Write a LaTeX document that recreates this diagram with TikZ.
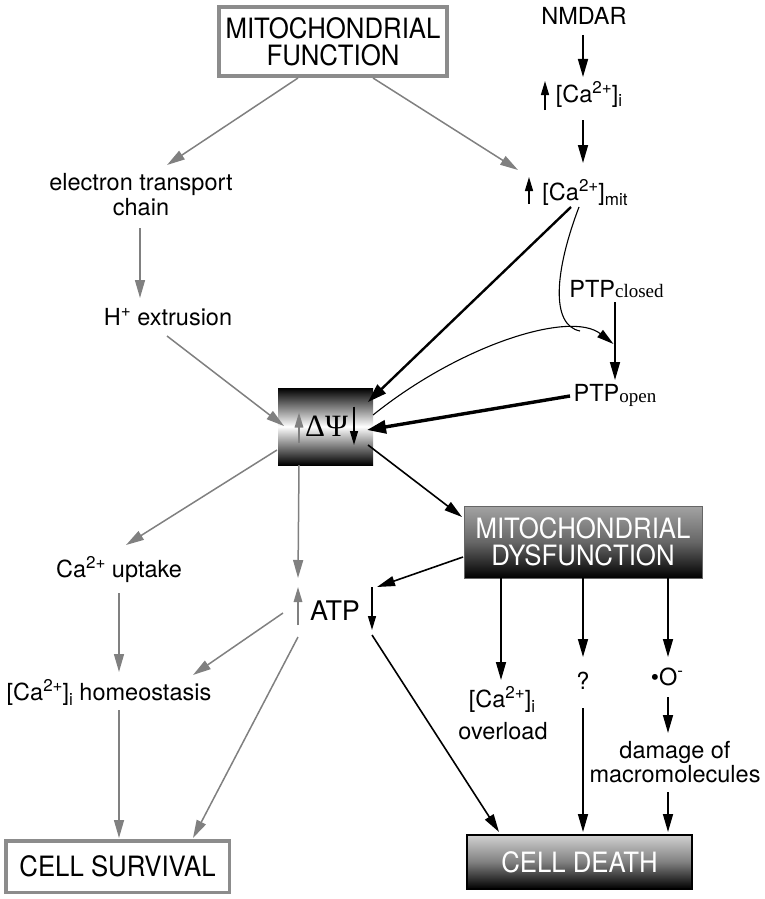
\documentclass[tikz,border=0pt]{standalone}
\usepackage{fontspec}
\setmainfont{TeX Gyre Heros}
\newfontfamily\boxfont[FakeStretch=0.92]{TeX Gyre Heros}
\newfontfamily\seriffont{Liberation Serif}
\usetikzlibrary{arrows.meta,calc}
\newcommand\sps[1]{\raisebox{8.5pt}{\fontsize{17}{17}\selectfont #1}}
\newcommand\sbs[1]{\raisebox{-5pt}{\fontsize{17}{17}\selectfont #1}}
\tikzset{
  lbl/.style={inner sep=0pt, anchor=base, font=\fontsize{23.5}{27}\selectfont},
  gr/.style={draw=black!50, line width=1.5pt, -{Triangle[length=18pt,width=10pt]}, black!50},
  bk/.style={draw=black, line width=1.6pt, -{Triangle[length=18pt,width=10pt]}},
  bkthick/.style={draw=black, line width=2.4pt, -{Triangle[length=19pt,width=12pt]}},
  bkvthick/.style={draw=black, line width=3.4pt, -{Triangle[length=19pt,width=13pt]}},
  smallbk/.style={draw=black, line width=1.4pt, -{Triangle[length=14pt,width=8pt]}},
  smallgr/.style={draw=black!50, line width=1.6pt, -{Triangle[length=15pt,width=8.5pt]}, black!50},
  thin/.style={draw=black, line width=1.1pt},
  boxtext/.style={inner sep=0pt, align=center, font=\boxfont\fontsize{28}{27}\selectfont},
}
\begin{document}
\begin{tikzpicture}[x=1pt,y=-1pt]
\useasboundingbox (0,0) rectangle (764,899);

% boxes
\node[boxtext, draw=black!45, line width=4pt, minimum width=228pt, minimum height=69pt] (mf) at (333,41.5) {MITOCHONDRIAL\\FUNCTION};
\node[inner sep=0pt, minimum width=95pt, minimum height=77pt, top color=black, bottom color=black, middle color=white,
      font=\seriffont\fontsize{31}{31}\selectfont] (dpsi) at (325.5,426.5) {\hspace{2pt}ΔΨ};
\node[boxtext, minimum width=238pt, minimum height=72pt, top color=black!36, bottom color=black, middle color=black!60,
      draw=black!60, line width=0.8pt, text=white] (mitod) at (583,542) {MITOCHONDRIAL\\DYSFUNCTION};
\node[boxtext, draw=black!45, line width=3.5pt, minimum width=223.5pt, minimum height=51.5pt] (cs) at (117.5,866.5) {CELL SURVIVAL};
\node[boxtext, minimum width=225pt, minimum height=54pt, top color=black!18, bottom color=black, middle color=black!50,
      draw=black, line width=2pt, text=white] (cd) at (579.5,862) {CELL DEATH};

% labels
\node[lbl] (nmdar) at (584,25) {NMDAR};
\node[lbl] (cai) at (589,102) {[Ca\sps{2+}]\sbs{i}};
\node[lbl] (camit) at (585,200) {[Ca\sps{2+}]\sbs{mit}};
\node[lbl] (etc1) at (141,190) {electron transport};
\node[lbl] (etc2) at (141,215) {chain};
\node[lbl] (hplus) at (168,325) {H\sps{+} extrusion};
\node[lbl] (ptpc) at (616.5,297) {PTP{\seriffont\fontsize{19}{19}\selectfont closed}};
\node[lbl] (ptpo) at (615,401) {PTP{\seriffont\fontsize{19}{19}\selectfont\raisebox{-1.5pt}{open}}};
\node[lbl] (uptake) at (119,577) {Ca\sps{2+} uptake};
\node[lbl, font=\fontsize{27}{27}\selectfont] (atp) at (335,620) {ATP};
\node[lbl] (homeo) at (109,700) {[Ca\sps{2+}]\sbs{i} homeostasis};
\node[lbl] (ovl1) at (502,707) {[Ca\sps{2+}]\sbs{i}};
\node[lbl] (ovl2) at (503,739) {overload};
\node[lbl] (q) at (583,689) {?};
\node[lbl] (sup) at (667,685) {\textbullet O\sps{-}};
\node[lbl] (dmg1) at (675,758) {damage of};
\node[lbl] (dmg2) at (675,782) {macromolecules};
\coordinate (merge) at (580,331);

% small in-label arrows
\draw[smallbk] ($(cai.base)+(-44,8)$) -- ($(cai.base)+(-44,-21)$);
\draw[smallbk] ($(camit.base)+(-56,4)$) -- ($(camit.base)+(-56,-23)$);
\draw[smallgr] ($(dpsi.center)+(-26.5,16.5)$) -- ($(dpsi.center)+(-26.5,-14)$);
\draw[smallbk] ($(dpsi.center)+(28.5,-20)$) -- ($(dpsi.center)+(28.5,18.5)$);
\draw[smallgr] ($(atp.base)+(-37,5)$) -- ($(atp.base)+(-37,-33)$);
\draw[smallbk] ($(atp.base)+(37,-33)$) -- ($(atp.base)+(37,10)$);

% connectors (gray = function)
\draw[gr] ($(mf.center)+(-35,36.5)$) -- ($(etc1.base)+(26,-25)$);
\draw[gr] ($(mf.center)+(40,36.5)$) -- ($(camit.base)+(-67,-30)$);
\draw[gr] ($(etc2.base)+(-1,13)$) -- ($(hplus.base)+(-28,-27)$);
\draw[gr] ($(hplus.base)+(-1,11)$) -- ($(dpsi.center)+(-41.5,-0.5)$);
\draw[gr] ($(dpsi.center)+(-48.5,23.5)$) -- ($(uptake.base)+(7,-32)$);
\draw[gr] ($(dpsi.center)+(-26.5,38.5)$) -- ($(atp.base)+(-37,-42)$);
\draw[gr] ($(atp.base)+(-52,-7)$) -- ($(homeo.base)+(84,-25)$);
\draw[gr] ($(atp.base)+(-37,17)$) -- ($(cs.center)+(75.5,-28.5)$);
\draw[gr] ($(uptake.base)+(0,16)$) -- ($(homeo.base)+(10,-28)$);
\draw[gr] ($(homeo.base)+(10,10)$) -- ($(cs.center)+(1.5,-28.5)$);

% connectors (black = dysfunction)
\draw[bk] ($(nmdar.base)+(-1,10)$) -- ($(cai.base)+(-6,-25)$);
\draw[bk] ($(cai.base)+(-6,18)$) -- ($(camit.base)+(-2,-37)$);
\draw[bkthick] ($(camit.base)+(-14,7)$) -- ($(dpsi.center)+(42.5,-24.5)$);
\draw[thin] ($(camit.base)+(-6,7)$) .. controls (555,270) and (550,325) .. (merge);
\draw[thin, -{Triangle[length=17pt,width=9pt]}] ($(dpsi.center)+(47.5,-11.5)$) .. controls (460,345) and (570,310) .. ($(ptpc.base)+(-3,47)$);
\draw[bk] ($(ptpc.base)+(-1.5,5)$) -- ($(ptpo.base)+(0,-21)$);
\draw[bkvthick] ($(ptpo.base)+(-45,-5)$) -- ($(dpsi.center)+(41.5,3.5)$);
\draw[bk] ($(dpsi.center)+(42.5,18.5)$) -- ($(mitod.center)+(-121,-25)$);
\draw[bk] ($(mitod.center)+(-120,15)$) -- ($(atp.base)+(42,-33)$);
\draw[bk] ($(atp.base)+(37,15)$) -- ($(cd.center)+(-80.5,-30)$);
\draw[bk] ($(mitod.center)+(-82,36)$) -- ($(ovl1.base)+(-1,-27)$);
\draw[bk] ($(mitod.center)+(0,36)$) -- ($(q.base)+(0,-32)$);
\draw[bk] ($(mitod.center)+(85,36)$) -- ($(sup.base)+(1,-28)$);
\draw[bk] ($(q.base)+(0,19)$) -- ($(cd.center)+(3.5,-30)$);
\draw[bk] ($(sup.base)+(1,12)$) -- ($(dmg1.base)+(-7,-25)$);
\draw[bk] ($(dmg2.base)+(-7,10)$) -- ($(cd.center)+(88.5,-30)$);
\end{tikzpicture}
\end{document}
